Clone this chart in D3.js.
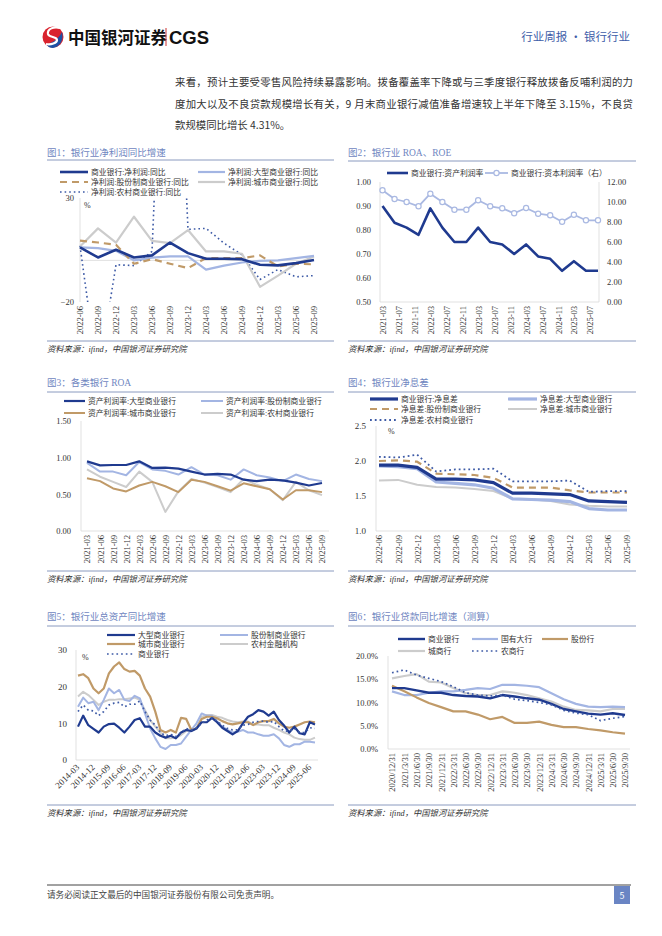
<!DOCTYPE html>
<html>
<head>
<meta charset="utf-8">
<script src="https://cdn.jsdelivr.net/npm/d3@7"></script>
<style>
  body { margin: 0; background: #fff; }
  svg { display: block; }
</style>
</head>
<body>
<script>
// ---------- data ----------
// fig 1: net profit yoy (%)
const f1Dates = ['2022-06','2022-09','2022-12','2023-03','2023-06','2023-09','2023-12','2024-03','2024-06','2024-09','2024-12','2025-03','2025-06','2025-09'];
const f1Commercial = [6.3,1.4,5.1,1.4,2.4,8.6,3.5,0.8,0.8,0.6,-2.1,-2.4,-1.3,0.2];
const f1Large = [6.3,5.9,4.6,0,1.3,1.9,1.9,-4.4,-2.5,-1.0,-0.2,0,1.1,2.2];
const f1Joint = [9.5,8.6,7.5,-1.6,0.6,-1.6,-3.7,1.1,1.1,1.1,2.4,-2.9,-1.6,-1.9];
const f1City = [6.7,15.4,8.6,21.0,9.4,8.3,14.6,4.3,4.3,3.2,-12.7,-7.3,-1.6,1.9];
const f1Rural = [7.0,-56,-2.1,-2.5,4.3,210,14.9,15.4,8.3,2.7,-9.2,-4.4,-7.9,-7.3];

// fig 2: ROA / ROE
const f2Dates = ['2021-03','2021-06','2021-09','2021-12','2022-03','2022-06','2022-09','2022-12','2023-03','2023-06','2023-09','2023-12','2024-03','2024-06','2024-09','2024-12','2025-03','2025-06','2025-09'];
const f2Roa = [0.90,0.83,0.81,0.78,0.89,0.81,0.75,0.75,0.81,0.75,0.74,0.70,0.74,0.69,0.68,0.63,0.67,0.63,0.63];
const f2Roe = [11.17,10.3,10.0,9.57,10.83,10.0,9.23,9.23,10.17,9.57,9.37,8.87,9.4,8.83,8.67,8.03,8.73,8.17,8.17];
const f2Ticks = ['2021-03','2021-07','2021-11','2022-03','2022-07','2022-11','2023-03','2023-07','2023-11','2024-03','2024-07','2024-11','2025-03','2025-07'];
const f2LeftTicks = [0.50,0.60,0.70,0.80,0.90,1.00];
const f2RightTicks = [0,2,4,6,8,10,12];

// fig 3: ROA by bank type
const f3Dates = f2Dates;
const f3Large = [0.95,0.895,0.90,0.90,0.95,0.86,0.865,0.85,0.81,0.77,0.78,0.77,0.70,0.68,0.70,0.69,0.66,0.62,0.655];
const f3Joint = [0.93,0.81,0.81,0.76,0.94,0.84,0.82,0.77,0.87,0.77,0.76,0.70,0.84,0.76,0.73,0.68,0.77,0.71,0.68];
const f3City = [0.72,0.68,0.58,0.54,0.62,0.67,0.61,0.53,0.70,0.67,0.61,0.55,0.65,0.61,0.57,0.43,0.555,0.555,0.53];
const f3Rural = [0.84,0.74,0.67,0.60,0.81,0.67,0.26,0.54,0.71,0.66,0.60,0.53,0.71,0.63,0.57,0.42,0.67,0.555,0.49];
const f3Ticks = [0,0.5,1.0,1.5];

// fig 4: net interest margin (%)
const f4Dates = f1Dates;
const f4Commercial = [1.94,1.94,1.91,1.74,1.74,1.73,1.69,1.54,1.54,1.53,1.52,1.43,1.42,1.41];
const f4Large = [1.93,1.92,1.89,1.70,1.68,1.66,1.61,1.46,1.45,1.44,1.42,1.32,1.30,1.30];
const f4Joint = [2.00,2.01,1.99,1.82,1.81,1.80,1.76,1.62,1.62,1.62,1.58,1.55,1.55,1.55];
const f4City = [1.72,1.73,1.66,1.63,1.62,1.60,1.57,1.46,1.45,1.43,1.38,1.36,1.35,1.35];
const f4Rural = [2.06,2.05,2.09,1.85,1.88,1.88,1.89,1.71,1.71,1.71,1.72,1.56,1.57,1.57];
const f4Ticks = [1.0,1.5,2.0,2.5];

// fig 5: total assets yoy (%)
const f5Dates = ['2014-03','2014-06','2014-09','2014-12','2015-03','2015-06','2015-09','2015-12','2016-03','2016-06','2016-09','2016-12',
  '2017-03','2017-06','2017-09','2017-12','2018-03','2018-06','2018-09','2018-12','2019-03','2019-06','2019-09','2019-12',
  '2020-03','2020-06','2020-09','2020-12','2021-03','2021-06','2021-09','2021-12','2022-03','2022-06','2022-09','2022-12',
  '2023-03','2023-06','2023-09','2023-12','2024-03','2024-06','2024-09','2024-12','2025-03','2025-06','2025-09'];
const f5Large = [9.1,12.1,9.5,8.5,7.5,9.1,9.8,9.9,8.8,7.5,9.1,10.9,11.4,9.1,9.1,7.5,6.6,6.1,6.6,5.9,7.5,8.2,7.9,8.6,10.3,10.3,11.5,10.3,8.8,7.9,7.0,7.9,10.0,11.8,12.5,13.6,13.2,12.1,13.2,10.9,9.4,7.5,9.1,7.3,7.0,10.3,9.7];
const f5Joint = [14.5,17.0,15.5,15.9,13.6,16.4,19.5,18.2,19.1,16.4,16.1,17.5,16.8,12.7,8.6,5.9,3.6,3.0,4.1,4.1,4.5,6.4,8.2,10.0,12.7,12.1,12.1,10.5,9.1,8.2,7.5,7.7,8.2,7.5,7.5,7.0,6.6,6.6,7.0,5.9,4.1,3.6,4.3,4.3,5.0,5.0,4.8];
const f5City = [23.0,23.4,22.3,19.5,18.2,19.5,23.6,25.5,26.6,24.8,24.1,24.3,23.0,19.5,17.3,13.2,8.2,7.5,8.2,7.5,11.5,11.2,8.2,8.6,11.2,11.8,11.8,11.4,10.6,10.0,9.7,10.0,10.3,10.3,9.5,10.3,10.6,10.6,11.2,10.0,9.1,8.8,9.1,9.7,10.3,10.5,10.3];
const f5Rural = [17.3,18.6,17.7,16.4,15.0,15.9,16.4,16.4,16.6,16.6,16.8,17.0,16.4,13.6,10.9,9.1,7.5,5.9,5.9,6.1,6.8,7.9,7.9,8.6,11.8,12.3,12.3,11.8,11.5,10.9,10.5,10.3,10.5,10.5,9.7,9.7,9.5,9.5,8.8,8.2,7.5,7.0,6.1,5.7,5.5,5.5,6.1];
const f5Commercial = [13.2,15.0,13.6,13.4,12.1,13.2,15.0,15.5,15.7,14.5,15.2,15.2,16.1,13.2,10.9,9.5,7.5,6.6,7.0,6.4,7.5,8.6,8.2,8.8,10.0,10.9,11.5,10.6,9.5,8.6,8.2,8.2,9.5,9.7,10.3,10.5,10.6,10.3,10.5,9.1,7.9,7.9,8.6,7.5,7.5,8.8,8.6];
const f5Ticks = ['2014-03','2014-12','2015-09','2016-06','2017-03','2017-12','2018-09','2019-06','2020-03','2020-12','2021-09','2022-06','2023-03','2023-12','2024-09','2025-06'];
const f5YTicks = [0,10,20,30];

// fig 6: loans yoy (estimate, %)
const f6Dates = ['2020/12/31','2021/3/31','2021/6/30','2021/9/30','2021/12/31','2022/3/31','2022/6/30','2022/9/30','2022/12/31','2023/3/31',
  '2023/6/30','2023/9/30','2023/12/31','2024/3/31','2024/6/30','2024/9/30','2024/12/31','2025/3/31','2025/6/30','2025/9/30'];
const f6Commercial = [13.1,13.1,12.6,12.1,12.1,11.6,11.4,11.3,10.9,11.6,11.3,10.9,10.6,9.7,8.6,8.1,7.6,7.4,7.7,7.3];
const f6Large = [12.4,11.6,11.6,12.1,12.4,12.4,12.7,13.1,12.9,13.8,13.8,13.6,13.3,12.0,10.7,9.7,9.1,9.0,9.1,9.0];
const f6Joint = [13.6,12.4,11.1,9.9,9.0,8.1,8.1,7.4,6.4,6.9,5.6,5.6,5.9,5.2,4.7,4.7,4.3,4.0,3.6,3.3];
const f6City = [15.2,15.7,16.1,14.5,14.3,13.1,12.0,11.6,11.6,12.4,12.1,11.6,10.9,10.2,9.1,8.4,8.3,8.1,8.6,8.6];
const f6Rural = [16.4,17.0,15.9,15.2,14.5,13.4,12.1,11.6,11.4,11.6,10.7,10.4,10.0,9.5,8.3,7.7,7.4,6.1,6.6,7.0];
const f6YTicks = [0,5,10,15,20];

// ---------- styles ----------
const NAVY = '#1f3a8f', LIGHT = '#a3b5e3', TAN = '#c09a68', GRAY = '#cccccc', DOT = '#3d5aa6';
const FONT = '"Liberation Serif","Noto Sans CJK SC",serif';
const CJK = '"Noto Sans CJK SC","Noto Sans",sans-serif';
const SOURCE = '资料来源：ifind，中国银河证券研究院';

const svg = d3.select('body').append('svg')
  .attr('width', 662).attr('height', 936)
  .style('font-family', FONT);

// ---------- header ----------
let logo = svg.append('g');
logo.append('circle').attr('cx', 53).attr('cy', 37).attr('r', 10.5).attr('fill', '#d9232e');
logo.append('path').attr('d', 'M47,45 C52,42 58,40 62,32 C64,40 60,47 53,48 C50,48 48,47 47,45 Z').attr('fill', '#1d50a3');
logo.append('path').attr('d', 'M60,28 C54,26 47,29 48,34 C49,38 57,36 57,40 C57,43 51,45 46,44')
  .attr('fill', 'none').attr('stroke', '#fff').attr('stroke-width', 2.2);
logo.append('text').attr('x', 68).attr('y', 43.5).attr('font-family', CJK).attr('font-weight', 'bold')
  .attr('font-size', 16.5).attr('fill', '#111').text('中国银河证券');
logo.append('line').attr('x1', 166).attr('x2', 166).attr('y1', 28).attr('y2', 46).attr('stroke', '#c33').attr('stroke-width', 1);
logo.append('text').attr('x', 169).attr('y', 44).attr('font-family', '"Liberation Sans",Arial,sans-serif').attr('font-weight', 'bold')
  .attr('font-size', 18.5).attr('fill', '#111').text('CGS');

svg.append('text').attr('x', 630).attr('y', 41).attr('text-anchor', 'end')
  .attr('font-family', CJK).attr('font-size', 11.5).attr('fill', '#3d5ca8').text('行业周报 · 银行行业');

// body paragraph
const para = [
  { t: '来看，预计主要受零售风险持续暴露影响。拨备覆盖率下降或与三季度银行释放拨备反哺利润的力', fit: true },
  { t: '度加大以及不良贷款规模增长有关，9 月末商业银行减值准备增速较上半年下降至 3.15%，不良贷', fit: true },
  { t: '款规模同比增长 4.31%。', fit: false }
];
para.forEach((p, i) => {
  let t = svg.append('text').attr('x', 175).attr('y', 86 + i * 21.5)
    .attr('font-family', CJK).attr('font-size', 10.4).attr('fill', '#333').text(p.t);
  if (p.fit) t.attr('textLength', 458).attr('lengthAdjust', 'spacing');
});

// ---------- helpers ----------
function frame(x0, x1, title, titleY, lineY, srcLineY, srcY) {
  svg.append('text').attr('x', x0).attr('y', titleY).attr('font-size', 9.5).attr('fill', '#6f86bf').text(title);
  svg.append('line').attr('x1', x0).attr('x2', x1).attr('y1', lineY).attr('y2', lineY)
    .attr('stroke', '#7d8fb8').attr('stroke-width', 0.9);
  svg.append('line').attr('x1', x0).attr('x2', x1).attr('y1', srcLineY).attr('y2', srcLineY)
    .attr('stroke', '#7d8fb8').attr('stroke-width', 0.9);
  svg.append('text').attr('x', x0).attr('y', srcY).attr('font-size', 8.3).attr('font-style', 'italic')
    .attr('fill', '#333').text(SOURCE);
}

function legendItem(x1, x2, y, st, label, marker) {
  svg.append('line').attr('x1', x1).attr('x2', x2).attr('y1', y).attr('y2', y)
    .attr('stroke', st.color).attr('stroke-width', st.width)
    .attr('stroke-dasharray', st.dash || null).attr('stroke-linecap', st.cap || 'butt');
  if (marker) {
    svg.append('circle').attr('cx', (x1 + x2) / 2).attr('cy', y).attr('r', 2.6)
      .attr('fill', '#fff').attr('stroke', st.color).attr('stroke-width', 1.2);
  }
  svg.append('text').attr('x', x2 + 3).attr('y', y + 2.8).attr('font-size', 7.8).attr('fill', '#333').text(label);
}

function drawSeries(g, values, x, y, cats, st) {
  const line = d3.line().x((d, i) => x(cats[i])).y(d => y(d));
  g.append('path').datum(values).attr('d', line).attr('fill', 'none')
    .attr('stroke', st.color).attr('stroke-width', st.width)
    .attr('stroke-dasharray', st.dash || null).attr('stroke-linecap', st.cap || 'butt')
    .attr('stroke-linejoin', 'round');
}

function styleAxisText(g, size) {
  g.select('.domain').remove();
  g.selectAll('text').attr('font-family', FONT).attr('font-size', size || 8.5).attr('fill', '#333');
}

function rotatedXAxis(g, axis, angle) {
  g.call(axis);
  styleAxisText(g);
  if (angle === -90) {
    g.selectAll('text').attr('transform', 'rotate(-90)').attr('x', -4).attr('y', 0)
      .attr('dy', '0.35em').attr('text-anchor', 'end');
  } else {
    g.selectAll('text').attr('transform', 'rotate(-45)').attr('x', -3).attr('y', 2)
      .attr('dy', '0.35em').attr('text-anchor', 'end').attr('font-size', 9);
  }
}

function vline(x, y1, y2) {
  svg.append('line').attr('x1', x).attr('x2', x).attr('y1', y1).attr('y2', y2).attr('stroke', '#d9d9d9').attr('stroke-width', 0.8);
}
function hline(x1, x2, y) {
  svg.append('line').attr('x1', x1).attr('x2', x2).attr('y1', y).attr('y2', y).attr('stroke', '#d9d9d9').attr('stroke-width', 0.8);
}

const sNavy = { color: NAVY, width: 2.6 };
const sLight = { color: LIGHT, width: 2.2 };
const sTan = { color: TAN, width: 2.2, dash: '7,5' };
const sGray = { color: GRAY, width: 2.2 };
const sDot = { color: DOT, width: 1.6, dash: '1.6,3', cap: 'butt' };

// ---------- fig 1 ----------
(function () {
  frame(47, 334, '图1：银行业净利润同比增速', 155.5, 160, 341, 352);
  legendItem(60, 88, 172, sNavy, '商业银行:净利润:同比');
  legendItem(198, 225, 172, sLight, '净利润:大型商业银行:同比');
  legendItem(60, 88, 182, sTan, '净利润:股份制商业银行:同比');
  legendItem(198, 225, 182, sGray, '净利润:城市商业银行:同比');
  legendItem(60, 88, 192, sDot, '净利润:农村商业银行:同比');

  const x = d3.scalePoint().domain(f1Dates).range([80, 314]);
  const y = d3.scaleLinear().domain([-20, 30]).range([302, 198]);
  vline(80, 198, 302);
  hline(80, 314, y(0));
  svg.append('clipPath').attr('id', 'clip1').append('rect').attr('x', 78).attr('y', 198).attr('width', 240).attr('height', 104);
  const g = svg.append('g').attr('clip-path', 'url(#clip1)');
  drawSeries(g, f1Rural, x, y, f1Dates, sDot);
  drawSeries(g, f1City, x, y, f1Dates, sGray);
  drawSeries(g, f1Large, x, y, f1Dates, sLight);
  drawSeries(g, f1Joint, x, y, f1Dates, sTan);
  drawSeries(g, f1Commercial, x, y, f1Dates, sNavy);

  const ya = svg.append('g').attr('transform', 'translate(74,0)')
    .call(d3.axisLeft(y).tickValues([-20, 30]).tickSize(0).tickPadding(0));
  styleAxisText(ya);
  svg.append('text').attr('x', 84).attr('y', 208).attr('font-size', 8).attr('fill', '#333').text('%');
  const xa = svg.append('g').attr('transform', 'translate(0,302)');
  rotatedXAxis(xa, d3.axisBottom(x).tickSize(0), -90);
})();

// ---------- fig 2 ----------
(function () {
  frame(348, 636, '图2：银行业 ROA、ROE', 155.5, 161, 341, 352);
  const sRoa = { color: NAVY, width: 2.6 };
  const sRoe = { color: '#aab9e2', width: 1.8 };
  legendItem(387, 408, 173, sRoa, '商业银行:资产利润率');
  legendItem(485, 508, 173, sRoe, '商业银行:资本利润率（右）', true);

  const parse = d3.timeParse('%Y-%m');
  const cats = f2Dates.map(parse);
  const x = d3.scaleTime().domain([parse('2021-03'), parse('2025-09')]).range([382.5, 598]);
  const yl = d3.scaleLinear().domain([0.5, 1.0]).range([302, 182]);
  const yr = d3.scaleLinear().domain([0, 12]).range([302, 182]);
  vline(380, 182, 302);
  vline(599, 182, 302);
  hline(380, 599, 302);

  const g = svg.append('g');
  drawSeries(g, f2Roe, x, yr, cats, sRoe);
  g.selectAll('circle.roe').data(f2Roe).enter().append('circle').attr('class', 'roe')
    .attr('cx', (d, i) => x(cats[i])).attr('cy', d => yr(d)).attr('r', 2.6)
    .attr('fill', '#fff').attr('stroke', '#aab9e2').attr('stroke-width', 1.2);
  drawSeries(g, f2Roa, x, yl, cats, sRoa);

  const yla = svg.append('g').attr('transform', 'translate(371,0)')
    .call(d3.axisLeft(yl).tickValues(f2LeftTicks).tickSize(0).tickPadding(0).tickFormat(d3.format('.2f')));
  styleAxisText(yla);
  const yra = svg.append('g').attr('transform', 'translate(607,0)')
    .call(d3.axisRight(yr).tickValues(f2RightTicks).tickSize(0).tickPadding(0).tickFormat(d3.format('.2f')));
  styleAxisText(yra);
  const xa = svg.append('g').attr('transform', 'translate(0,302)');
  rotatedXAxis(xa, d3.axisBottom(x).tickValues(f2Ticks.map(parse)).tickSize(0).tickFormat(d3.timeFormat('%Y-%m')), -90);
})();

// ---------- fig 3 ----------
(function () {
  frame(47, 334, '图3：各类银行 ROA', 386, 392, 571, 582);
  const s = { navy: { color: NAVY, width: 2.2 }, light: { color: LIGHT, width: 2 }, tan: { color: TAN, width: 2 }, gray: { color: GRAY, width: 2 } };
  legendItem(64, 85, 401, s.navy, '资产利润率:大型商业银行');
  legendItem(201, 223, 401, s.light, '资产利润率:股份制商业银行');
  legendItem(64, 85, 413, s.tan, '资产利润率:城市商业银行');
  legendItem(201, 223, 413, s.gray, '资产利润率:农村商业银行');

  const x = d3.scalePoint().domain(f3Dates).range([87, 322]);
  const y = d3.scaleLinear().domain([0, 1.5]).range([531, 421]);
  vline(81, 421, 531);
  hline(81, 329, 531);
  const g = svg.append('g');
  drawSeries(g, f3Rural, x, y, f3Dates, s.gray);
  drawSeries(g, f3City, x, y, f3Dates, s.tan);
  drawSeries(g, f3Joint, x, y, f3Dates, s.light);
  drawSeries(g, f3Large, x, y, f3Dates, s.navy);

  const ya = svg.append('g').attr('transform', 'translate(71,0)')
    .call(d3.axisLeft(y).tickValues(f3Ticks).tickSize(0).tickPadding(0).tickFormat(d3.format('.2f')));
  styleAxisText(ya);
  const xa = svg.append('g').attr('transform', 'translate(0,531)');
  rotatedXAxis(xa, d3.axisBottom(x).tickSize(0), -90);
})();

// ---------- fig 4 ----------
(function () {
  frame(348, 636, '图4：银行业净息差', 386, 392, 571, 582);
  const s = { navy: { color: NAVY, width: 3.2 }, light: { color: LIGHT, width: 3.2 },
    tan: { color: TAN, width: 2.2, dash: '7,5' }, gray: { color: GRAY, width: 2 }, dot: { color: DOT, width: 1.8, dash: '1.8,3' } };
  legendItem(370, 398, 399, s.navy, '商业银行:净息差');
  legendItem(508, 537, 399, s.light, '净息差:大型商业银行');
  legendItem(370, 398, 409, s.tan, '净息差:股份制商业银行');
  legendItem(508, 537, 409, s.gray, '净息差:城市商业银行');
  legendItem(370, 398, 420, s.dot, '净息差:农村商业银行');

  const x = d3.scalePoint().domain(f4Dates).range([379, 627]);
  const y = d3.scaleLinear().domain([1.0, 2.5]).range([531, 426]);
  vline(376, 426, 531);
  hline(376, 630, 531);
  const g = svg.append('g');
  drawSeries(g, f4City, x, y, f4Dates, s.gray);
  drawSeries(g, f4Large, x, y, f4Dates, s.light);
  drawSeries(g, f4Commercial, x, y, f4Dates, s.navy);
  drawSeries(g, f4Joint, x, y, f4Dates, s.tan);
  drawSeries(g, f4Rural, x, y, f4Dates, s.dot);

  const ya = svg.append('g').attr('transform', 'translate(366,0)')
    .call(d3.axisLeft(y).tickValues(f4Ticks).tickSize(0).tickPadding(0).tickFormat(d3.format('.1f')));
  styleAxisText(ya, 9);
  svg.append('text').attr('x', 388).attr('y', 434).attr('font-size', 8).attr('fill', '#333').text('%');
  const xa = svg.append('g').attr('transform', 'translate(0,531)');
  rotatedXAxis(xa, d3.axisBottom(x).tickSize(0), -90);
})();

// ---------- fig 5 ----------
(function () {
  frame(47, 334, '图5：银行业总资产同比增速', 620, 626, 805, 816);
  const s = { navy: { color: NAVY, width: 2.2 }, light: { color: LIGHT, width: 2 }, tan: { color: TAN, width: 2.2 },
    gray: { color: GRAY, width: 2 }, dot: { color: DOT, width: 1.7, dash: '1.7,3' } };
  legendItem(107, 135, 635, s.navy, '大型商业银行');
  legendItem(220, 248, 635, s.light, '股份制商业银行');
  legendItem(107, 135, 644, s.tan, '城市商业银行');
  legendItem(220, 248, 644, s.gray, '农村金融机构');
  legendItem(107, 135, 654, s.dot, '商业银行');

  const x = d3.scalePoint().domain(f5Dates).range([78, 315]);
  const y = d3.scaleLinear().domain([0, 30]).range([760, 650]);
  vline(76, 650, 760);
  hline(76, 318, 760);
  const g = svg.append('g');
  drawSeries(g, f5Rural, x, y, f5Dates, s.gray);
  drawSeries(g, f5Joint, x, y, f5Dates, s.light);
  drawSeries(g, f5City, x, y, f5Dates, s.tan);
  drawSeries(g, f5Large, x, y, f5Dates, s.navy);
  drawSeries(g, f5Commercial, x, y, f5Dates, s.dot);

  const ya = svg.append('g').attr('transform', 'translate(67,0)')
    .call(d3.axisLeft(y).tickValues(f5YTicks).tickSize(0).tickPadding(0));
  styleAxisText(ya, 9);
  svg.append('text').attr('x', 82).attr('y', 660).attr('font-size', 8).attr('fill', '#333').text('%');
  const xa = svg.append('g').attr('transform', 'translate(0,762)');
  rotatedXAxis(xa, d3.axisBottom(x).tickValues(f5Ticks).tickSize(0), -45);
})();

// ---------- fig 6 ----------
(function () {
  frame(348, 636, '图6：银行业贷款同比增速（测算）', 620, 626, 805, 816);
  const s = { navy: { color: NAVY, width: 2.4 }, light: { color: LIGHT, width: 2.2 }, tan: { color: TAN, width: 2.2 },
    gray: { color: GRAY, width: 2.2 }, dot: { color: DOT, width: 1.7, dash: '1.7,3' } };
  legendItem(398, 425, 639, s.navy, '商业银行');
  legendItem(472, 498, 639, s.light, '国有大行');
  legendItem(542, 568, 639, s.tan, '股份行');
  legendItem(398, 425, 651, s.gray, '城商行');
  legendItem(472, 498, 651, s.dot, '农商行');

  const x = d3.scalePoint().domain(f6Dates).range([392, 625]);
  const y = d3.scaleLinear().domain([0, 20]).range([749, 656]);
  vline(388, 656, 749);
  hline(388, 630, 749);
  const g = svg.append('g');
  drawSeries(g, f6City, x, y, f6Dates, s.gray);
  drawSeries(g, f6Large, x, y, f6Dates, s.light);
  drawSeries(g, f6Joint, x, y, f6Dates, s.tan);
  drawSeries(g, f6Commercial, x, y, f6Dates, s.navy);
  drawSeries(g, f6Rural, x, y, f6Dates, s.dot);

  const ya = svg.append('g').attr('transform', 'translate(378,0)')
    .call(d3.axisLeft(y).tickValues(f6YTicks).tickSize(0).tickPadding(0).tickFormat(d => d.toFixed(1) + '%'));
  styleAxisText(ya);
  const xa = svg.append('g').attr('transform', 'translate(0,749)');
  rotatedXAxis(xa, d3.axisBottom(x).tickSize(0), -90);
})();

// ---------- footer ----------
svg.append('line').attr('x1', 47).attr('x2', 631).attr('y1', 885).attr('y2', 885).attr('stroke', '#444').attr('stroke-width', 1);
svg.append('text').attr('x', 47).attr('y', 898).attr('font-family', CJK).attr('font-size', 8.6).attr('fill', '#444')
  .text('请务必阅读正文最后的中国银河证券股份有限公司免责声明。');
svg.append('rect').attr('x', 614).attr('y', 886).attr('width', 16).attr('height', 18).attr('fill', '#6a85c4');
svg.append('text').attr('x', 622).attr('y', 899).attr('text-anchor', 'middle').attr('font-family', CJK)
  .attr('font-size', 9).attr('fill', '#fff').text('5');
</script>
</body>
</html>
